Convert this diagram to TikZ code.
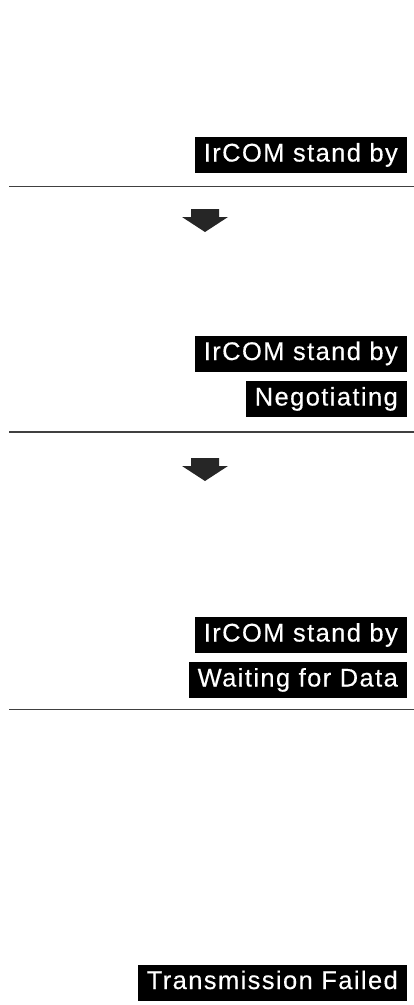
\documentclass[tikz,border=0pt]{standalone}
\usepackage{fontspec}
\setmainfont{Liberation Sans}[LetterSpace=5.5,FakeBold=0.3]
\begin{document}
\begin{tikzpicture}[x=1pt,y=-1pt,
  lbl/.style={fill=black,text=white,font=\fontsize{25.5}{25.5}\selectfont,
    anchor=east,minimum height=36pt,inner xsep=9pt,inner ysep=0pt,text depth=6pt,text height=19pt},
  sep/.style={draw=black!75,line width=1.5pt},
  downarrow/.style={fill=black!85,draw=none}]
\useasboundingbox (0,0) rectangle (414,1005);
% panel 1
\node[lbl] (s1) at (407,155) {IrCOM stand by};
\coordinate (l1a) at (9,186.5);
\coordinate (l1b) at (414,186.5);
\draw[sep] (l1a) -- (l1b);
\coordinate (a1) at (205,209);
\fill[downarrow] (a1) ++(-14,0) -- ++(28,0) -- ++(0,8) -- ++(9,0) -- ++(-23,15) -- ++(-23,-15) -- ++(9,0) -- cycle;
% panel 2
\node[lbl] (s2) at (407,353.5) {IrCOM stand by};
\node[lbl] (n2) at (407,399) {Negotiating};
\coordinate (l2a) at (9,432);
\coordinate (l2b) at (414,432);
\draw[sep] (l2a) -- (l2b);
\coordinate (a2) at (205,458);
\fill[downarrow] (a2) ++(-14,0) -- ++(28,0) -- ++(0,8) -- ++(9,0) -- ++(-23,15) -- ++(-23,-15) -- ++(9,0) -- cycle;
% panel 3
\node[lbl] (s3) at (407,635) {IrCOM stand by};
\node[lbl] (w3) at (407,680) {Waiting for Data};
\coordinate (l3a) at (9,709.5);
\coordinate (l3b) at (414,709.5);
\draw[sep] (l3a) -- (l3b);
% panel 4
\node[lbl] (t4) at (407,982.5) {Transmission Failed};
\end{tikzpicture}
\end{document}
